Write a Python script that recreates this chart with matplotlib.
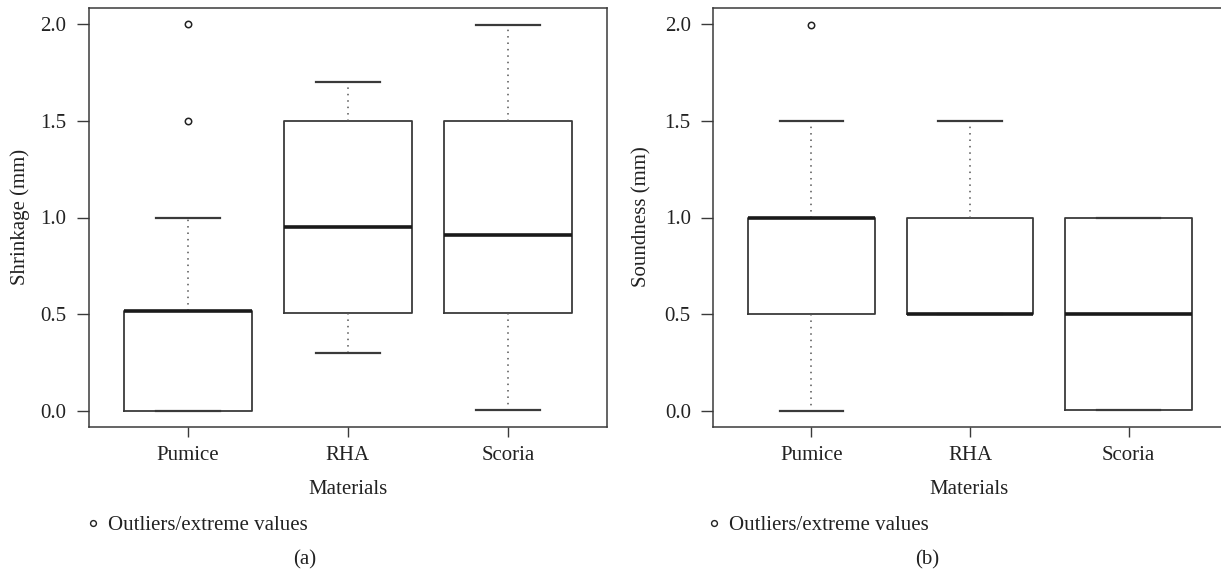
import matplotlib
matplotlib.use("Agg")
import matplotlib.pyplot as plt

plt.rcParams['font.family'] = ['Liberation Serif', 'DejaVu Serif']

materials = ["Pumice", "RHA", "Scoria"]

# Panel (a) Shrinkage (mm)
shr_q1 = [0.00, 0.51, 0.51]
shr_med = [0.52, 0.95, 0.91]
shr_q3 = [0.52, 1.50, 1.50]
shr_whislo = [0.00, 0.30, 0.01]
shr_whishi = [1.00, 1.70, 1.99]
shr_fliers = [[1.5, 2.0], [], []]

# Panel (b) Soundness (mm)
snd_q1 = [0.50, 0.50, 0.01]
snd_med = [1.00, 0.50, 0.50]
snd_q3 = [1.00, 1.00, 1.00]
snd_whislo = [0.00, 0.50, 0.01]
snd_whishi = [1.50, 1.50, 1.00]
snd_fliers = [[1.99], [], []]

yticks = [0.0, 0.5, 1.0, 1.5, 2.0]
ytick_labels = ["0.0", "0.5", "1.0", "1.5", "2.0"]

W, H = 1221, 573
fig = plt.figure(figsize=(W / 100, H / 100), dpi=100)
fig.patch.set_facecolor("white")

dark = "#3a3a3a"
tc = "#222222"
fs = 15


def make_stats(q1, med, q3, lo, hi, fl):
    return [dict(q1=a, med=b, q3=c, whislo=d, whishi=e, fliers=f, label=m)
            for a, b, c, d, e, f, m in zip(q1, med, q3, lo, hi, fl, materials)]


def draw(ax, stats):
    ax.bxp(stats, positions=[1, 2, 3], widths=0.8, showfliers=True,
           boxprops=dict(color=dark, linewidth=1.3),
           medianprops=dict(color="#1a1a1a", linewidth=2.6, solid_capstyle="butt"),
           whiskerprops=dict(color="#555555", linewidth=1.1, linestyle=(0, (1, 3.2))),
           capprops=dict(color=dark, linewidth=1.6),
           capwidths=0.4,
           flierprops=dict(marker="o", markersize=4.6, markerfacecolor="white",
                           markeredgecolor="#222222", markeredgewidth=1.1))
    ax.set_xlim(0.38, 3.62)
    ax.set_ylim(-0.08, 2.08)
    ax.set_yticks(yticks)
    ax.set_yticklabels(ytick_labels)
    ax.set_xticks([1, 2, 3])
    ax.set_xticklabels(materials)
    ax.tick_params(axis="y", direction="out", length=9, width=1.0, color=dark,
                   pad=7, labelsize=fs, labelcolor=tc)
    ax.tick_params(axis="x", direction="out", length=7.5, width=1.0, color=dark,
                   pad=6.5, labelsize=fs, labelcolor=tc)
    for s in ax.spines.values():
        s.set_color(dark)
        s.set_linewidth(1.1)


axb = 573 - 427
axh = 427 - 8

ax1 = fig.add_axes([88.5 / W, axb / H, (607 - 88.5) / W, axh / H])
draw(ax1, make_stats(shr_q1, shr_med, shr_q3, shr_whislo, shr_whishi, shr_fliers))

ax2 = fig.add_axes([713 / W, axb / H, (1227 - 713) / W, axh / H])
draw(ax2, make_stats(snd_q1, snd_med, snd_q3, snd_whislo, snd_whishi, snd_fliers))

# axis labels
fig.text(20 / W, 1 - 217 / H, "Shrinkage (mm)", rotation=90, ha="center", va="center", fontsize=fs, color=tc)
fig.text(642 / W, 1 - 217 / H, "Soundness (mm)", rotation=90, ha="center", va="center", fontsize=fs, color=tc)
fig.text(348 / W, 1 - 489.5 / H, "Materials", ha="center", va="center", fontsize=fs, color=tc)
fig.text(969 / W, 1 - 489.5 / H, "Materials", ha="center", va="center", fontsize=fs, color=tc)

# legends
for mx, tx in [(93, 108), (714, 729)]:
    fig.add_artist(plt.Line2D([mx / W], [1 - 523 / H], marker="o", markersize=4.2,
                              markerfacecolor="white", markeredgecolor="#222222",
                              markeredgewidth=1.0, linestyle="none"))
    fig.text(tx / W, 1 - 525 / H, "Outliers/extreme values", ha="left", va="center",
             fontsize=fs, color=tc)

fig.text(305 / W, 1 - 560 / H, "(a)", ha="center", va="center", fontsize=fs, color=tc)
fig.text(927 / W, 1 - 560 / H, "(b)", ha="center", va="center", fontsize=fs, color=tc)

fig.savefig("out.png", dpi=100, facecolor="white")
